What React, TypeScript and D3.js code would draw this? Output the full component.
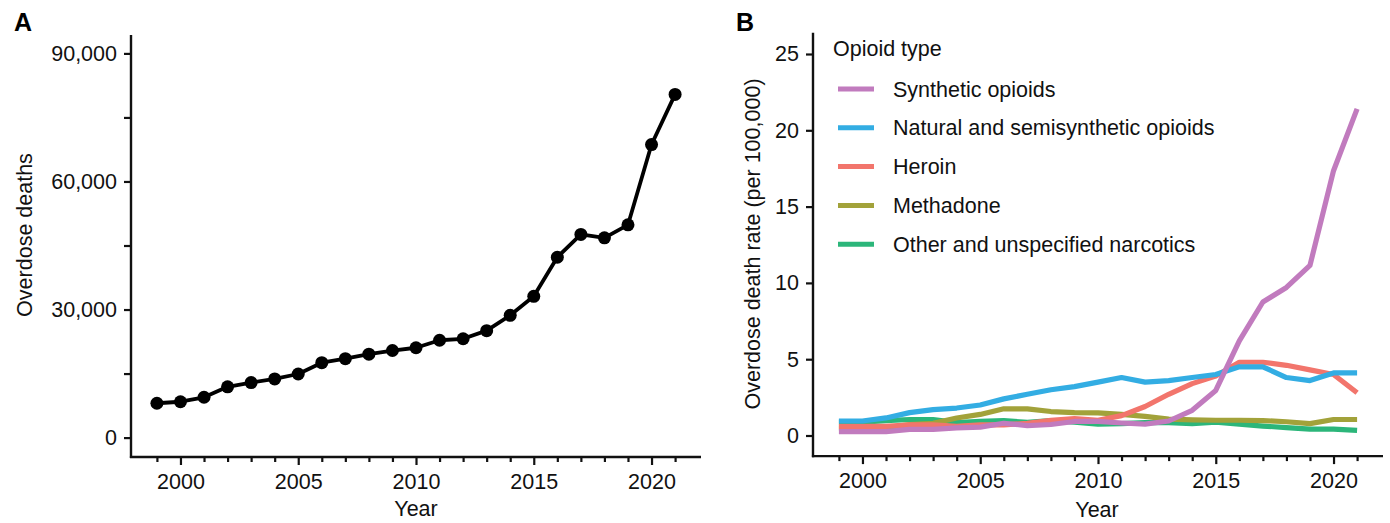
import { useRef, useEffect } from 'react';
import * as d3 from 'd3';

const years = d3.range(1999, 2022);

// Panel A: total opioid overdose deaths
const overdoseDeaths = [
  8050, 8400, 9450, 11900, 12900, 13750, 14900, 17550, 18500, 19550, 20400,
  21050, 22800, 23150, 25050, 28650, 33100, 42250, 47600, 46800, 49850, 68650,
  80400,
];

// Panel B: death rates per 100,000 by opioid type
const seriesNames = [
  'Synthetic opioids',
  'Natural and semisynthetic opioids',
  'Heroin',
  'Methadone',
  'Other and unspecified narcotics',
];
const seriesColors = ['#C17BBE', '#33ADE3', '#F2756C', '#A2A23A', '#2CB67A'];

const syntheticRates = [
  0.25, 0.25, 0.25, 0.4, 0.4, 0.5, 0.55, 0.8, 0.65, 0.72, 0.92, 0.92, 0.82,
  0.75, 0.95, 1.65, 2.95, 6.2, 8.75, 9.7, 11.15, 17.35, 21.4,
];
const naturalRates = [
  0.95, 0.95, 1.15, 1.5, 1.7, 1.8, 2.0, 2.4, 2.7, 3.0, 3.2, 3.5, 3.8, 3.5,
  3.6, 3.8, 4.0, 4.5, 4.5, 3.8, 3.6, 4.1, 4.1,
];
const heroinRates = [
  0.6, 0.6, 0.6, 0.7, 0.7, 0.6, 0.7, 0.7, 0.8, 1.0, 1.1, 1.0, 1.3, 1.9, 2.7,
  3.4, 3.9, 4.8, 4.8, 4.6, 4.3, 4.0, 2.8,
];
const methadoneRates = [
  0.5, 0.5, 0.5, 0.72, 0.8, 1.15, 1.38, 1.75, 1.75, 1.57, 1.5, 1.48, 1.38,
  1.25, 1.07, 1.03, 1.0, 1.0, 0.98, 0.9, 0.78, 1.05, 1.05,
];
const otherRates = [
  0.87, 0.87, 0.98, 1.05, 1.05, 0.85, 0.92, 0.97, 0.87, 0.97, 0.87, 0.75,
  0.78, 0.85, 0.85, 0.78, 0.87, 0.75, 0.62, 0.52, 0.42, 0.42, 0.33,
];
const seriesValues = [syntheticRates, naturalRates, heroinRates, methadoneRates, otherRates];

const deathTicks = d3.range(0, 90001, 15000);
const rateTicks = [0, 5, 10, 15, 20, 25];

const FONT = '"Liberation Sans", Arial, Helvetica, sans-serif';
const FS = '21.5px';
const INK = '#111';

function styleAxis(g: d3.Selection<SVGGElement, unknown, null, undefined>) {
  g.select('.domain').remove();
  g.selectAll('.tick line').attr('stroke', INK).attr('stroke-width', 2.2);
  g.selectAll('.tick text')
    .attr('fill', INK)
    .attr('font-size', FS)
    .attr('font-family', FONT);
}

export default function App() {
  const svgRef = useRef<SVGSVGElement>(null);

  useEffect(() => {
    if (!svgRef.current) return;
    const svg = d3.select(svgRef.current);
    svg.selectAll('*').remove();

    const yearFmt = (d: d3.NumberValue) => (+d % 5 === 0 ? String(d) : '');

    // ---------- Panel A ----------
    const xA = d3.scaleLinear().domain([1997.9, 2022.1]).range([131, 701]);
    const yA = d3.scaleLinear().domain([0, 90000]).range([437.6, 53.4]);
    const gA = svg.append('g');

    const xAxisA = gA
      .append('g')
      .attr('transform', `translate(0,${yA(-4550)})`)
      .call(d3.axisBottom(xA).tickValues(years).tickFormat(yearFmt).tickSize(8).tickPadding(9));
    styleAxis(xAxisA);
    xAxisA.selectAll<SVGLineElement, number>('.tick line').attr('y2', (d) => (d % 5 === 0 ? 8 : 5));

    const yAxisA = gA
      .append('g')
      .attr('transform', `translate(${xA(1997.9)},0)`)
      .call(
        d3
          .axisLeft(yA)
          .tickValues(deathTicks)
          .tickFormat((d) => (+d % 30000 === 0 ? d3.format(',')(+d) : ''))
          .tickSize(7)
          .tickPadding(7),
      );
    styleAxis(yAxisA);

    // spines
    gA.append('line')
      .attr('x1', xA(1997.9)).attr('x2', xA(1997.9))
      .attr('y1', yA(94300)).attr('y2', yA(-4550) + 1.1)
      .attr('stroke', INK).attr('stroke-width', 2.4);
    gA.append('line')
      .attr('x1', xA(1997.9) - 1.1).attr('x2', xA(2022.1))
      .attr('y1', yA(-4550)).attr('y2', yA(-4550))
      .attr('stroke', INK).attr('stroke-width', 2.4);

    const lineA = d3
      .line<number>()
      .x((_d, i) => xA(years[i]))
      .y((d) => yA(d));
    gA.append('path')
      .datum(overdoseDeaths)
      .attr('fill', 'none')
      .attr('stroke', '#000')
      .attr('stroke-width', 3.8)
      .attr('stroke-linejoin', 'round')
      .attr('d', lineA);
    gA.selectAll('circle.pt')
      .data(overdoseDeaths)
      .join('circle')
      .attr('class', 'pt')
      .attr('cx', (_d, i) => xA(years[i]))
      .attr('cy', (d) => yA(d))
      .attr('r', 6.5)
      .attr('fill', '#000');

    gA.append('text')
      .attr('x', 416).attr('y', 516)
      .attr('text-anchor', 'middle')
      .attr('font-size', FS).attr('font-family', FONT).attr('fill', INK)
      .text('Year');
    gA.append('text')
      .attr('transform', `translate(32,235) rotate(-90)`)
      .attr('text-anchor', 'middle')
      .attr('font-size', FS).attr('font-family', FONT).attr('fill', INK)
      .text('Overdose deaths');
    gA.append('text')
      .attr('x', 14).attr('y', 31)
      .attr('font-size', '25px').attr('font-weight', 'bold').attr('font-family', FONT).attr('fill', '#000')
      .text('A');

    // ---------- Panel B ----------
    const xB = d3.scaleLinear().domain([1997.9, 2022.1]).range([813, 1383]);
    const yB = d3.scaleLinear().domain([0, 25]).range([435.5, 54]);
    const gB = svg.append('g');

    const xAxisB = gB
      .append('g')
      .attr('transform', `translate(0,${yB(-1.35)})`)
      .call(d3.axisBottom(xB).tickValues(years).tickFormat(yearFmt).tickSize(8).tickPadding(9));
    styleAxis(xAxisB);
    xAxisB.selectAll<SVGLineElement, number>('.tick line').attr('y2', (d) => (d % 5 === 0 ? 8 : 5));

    const yAxisB = gB
      .append('g')
      .attr('transform', `translate(${xB(1997.9)},0)`)
      .call(d3.axisLeft(yB).tickValues(rateTicks).tickSize(7).tickPadding(7));
    styleAxis(yAxisB);

    gB.append('line')
      .attr('x1', xB(1997.9)).attr('x2', xB(1997.9))
      .attr('y1', yB(26.4)).attr('y2', yB(-1.35) + 1.1)
      .attr('stroke', INK).attr('stroke-width', 2.4);
    gB.append('line')
      .attr('x1', xB(1997.9) - 1.1).attr('x2', xB(2022.1))
      .attr('y1', yB(-1.35)).attr('y2', yB(-1.35))
      .attr('stroke', INK).attr('stroke-width', 2.4);

    const lineB = d3
      .line<number>()
      .x((_d, i) => xB(years[i]))
      .y((d) => yB(d));
    // draw bottom legend entry first so synthetic ends up on top
    for (let s = seriesValues.length - 1; s >= 0; s--) {
      gB.append('path')
        .datum(seriesValues[s])
        .attr('fill', 'none')
        .attr('stroke', seriesColors[s])
        .attr('stroke-width', 5.2)
        .attr('stroke-linejoin', 'round')
        .attr('d', lineB);
    }

    // legend
    const legend = gB.append('g');
    legend.append('text')
      .attr('x', 833).attr('y', 56)
      .attr('font-size', FS).attr('font-family', FONT).attr('fill', INK)
      .text('Opioid type');
    seriesNames.forEach((name, i) => {
      const cy = 89 + i * 38.8;
      legend.append('line')
        .attr('x1', 838).attr('x2', 874)
        .attr('y1', cy).attr('y2', cy)
        .attr('stroke', seriesColors[i]).attr('stroke-width', 5);
      legend.append('text')
        .attr('x', 893).attr('y', cy + 7.5)
        .attr('font-size', FS).attr('font-family', FONT).attr('fill', INK)
        .text(name);
    });

    gB.append('text')
      .attr('x', 1097).attr('y', 517)
      .attr('text-anchor', 'middle')
      .attr('font-size', FS).attr('font-family', FONT).attr('fill', INK)
      .text('Year');
    gB.append('text')
      .attr('transform', `translate(760,244) rotate(-90)`)
      .attr('text-anchor', 'middle')
      .attr('font-size', FS).attr('font-family', FONT).attr('fill', INK)
      .text('Overdose death rate (per 100,000)');
    gB.append('text')
      .attr('x', 736).attr('y', 31)
      .attr('font-size', '25px').attr('font-weight', 'bold').attr('font-family', FONT).attr('fill', '#000')
      .text('B');
  }, []);

  return (
    <svg
      ref={svgRef}
      width={1390}
      height={523}
      style={{ position: 'absolute', left: 0, top: 0, background: '#fff' }}
    />
  );
}
